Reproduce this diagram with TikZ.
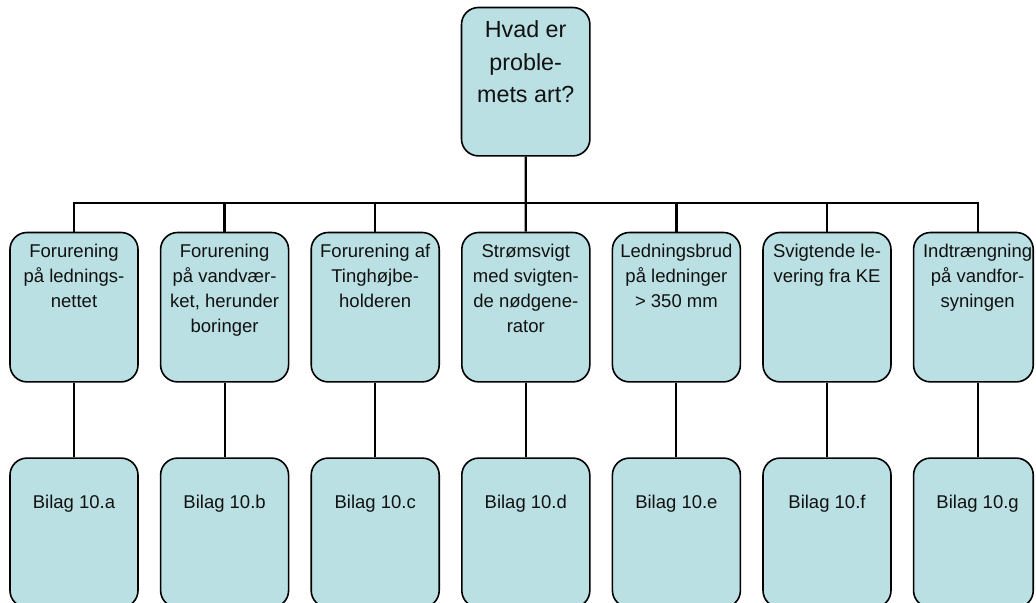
\documentclass[tikz,border=0pt]{standalone}
\usepackage{fontspec}
\setmainfont{Liberation Sans}
\newcommand\boxfont{\fontsize{18.5bp}{25bp}\selectfont}
\newcommand\headfont{\fontsize{23.3bp}{32.5bp}\selectfont}
\definecolor{boxfill}{RGB}{187,224,227}
\definecolor{ink}{RGB}{17,17,17}
\tikzset{
  card/.style={draw=black, line width=1.6bp, fill=boxfill, rounded corners=17bp,
    inner sep=0pt, minimum width=128bp, minimum height=149.4bp},
  txt/.style={anchor=north, inner sep=0pt, align=center, text=ink, font=\boxfont},
  headtxt/.style={anchor=north, inner sep=0pt, align=center, text=ink, font=\headfont},
  link/.style={draw=black, line width=2.3bp},
  thinlink/.style={draw=black, line width=1.8bp},
  droplink/.style={draw=black, line width=2bp},
}
\begin{document}
\begin{tikzpicture}[x=1bp, y=-1bp]
\useasboundingbox (0,0) rectangle (1036,603);
\clip (0,0) rectangle (1036,603);

% question box
\node[card, minimum width=128.4bp, minimum height=148.4bp] (top) at (525.7,81.7) {};
\node[headtxt] (ttop) at ([yshift=-8bp]top.north) {\strut Hvad er\\proble-\\mets art?};

% horizontal bus level and column 7 axis
\coordinate (bus) at (0,203.3);
\coordinate (c7) at (977.6,0);

% problem boxes
\node[card] (m1) at (74,307.2) {};
\node[card] (m2) at (224.6,307.2) {};
\node[card] (m3) at (375.2,307.2) {};
\node[card] (m4) at (525.8,307.2) {};
\node[card] (m5) at (676.4,307.2) {};
\node[card] (m6) at (827,307.2) {};
\node[card, minimum width=119.7bp] (m7) at (973.4,307.2) {};

\node[txt] (t1) at ([yshift=-8.3bp]m1.north) {\strut Forurening\\på lednings-\\nettet};
\node[txt] (t2) at ([yshift=-8.3bp]m2.north) {\strut Forurening\\på vandvær-\\ket, herunder\\boringer};
\node[txt] (t3) at ([yshift=-8.3bp]m3.north) {\strut Forurening af\\Tinghøjbe-\\holderen};
\node[txt] (t4) at ([yshift=-8.3bp]m4.north) {\strut Strømsvigt\\med svigten-\\de nødgene-\\rator};
\node[txt] (t5) at ([yshift=-8.3bp]m5.north) {\strut Ledningsbrud\\på ledninger\\> 350 mm};
\node[txt] (t6) at ([yshift=-8.3bp]m6.north) {\strut Svigtende le-\\vering fra KE};
\node[txt] (t7) at ([yshift=-8.3bp]m7.north -| c7) {\strut Indtrængning\\på vandfor-\\syningen};

% appendix boxes
\node[card] (b1) at (74,532.8) {};
\node[card] (b2) at (224.6,532.8) {};
\node[card] (b3) at (375.2,532.8) {};
\node[card] (b4) at (525.8,532.8) {};
\node[card] (b5) at (676.4,532.8) {};
\node[card] (b6) at (827,532.8) {};
\node[card, minimum width=119.7bp] (b7) at (973.4,532.8) {};

\node[txt] (u1) at ([yshift=-33.7bp]b1.north) {\strut Bilag 10.a};
\node[txt] (u2) at ([yshift=-33.7bp]b2.north) {\strut Bilag 10.b};
\node[txt] (u3) at ([yshift=-33.7bp]b3.north) {\strut Bilag 10.c};
\node[txt] (u4) at ([yshift=-33.7bp]b4.north) {\strut Bilag 10.d};
\node[txt] (u5) at ([yshift=-33.7bp]b5.north) {\strut Bilag 10.e};
\node[txt] (u6) at ([yshift=-33.7bp]b6.north) {\strut Bilag 10.f};
\node[txt] (u7) at ([yshift=-33.7bp]b7.north -| c7) {\strut Bilag 10.g};

% tree connectors from the question to each problem
\draw[thinlink] (top.south) -- (top.south |- bus) -| (m1.north);
\draw[link] (top.south) -- (top.south |- bus) -| (m2.north);
\draw[link] (top.south) -- (top.south |- bus) -| (m3.north);
\draw[link] (top.south) -- (m4.north);
\draw[link] (top.south) -- (top.south |- bus) -| (m5.north);
\draw[link] (top.south) -- (top.south |- bus) -| (m6.north);
\draw[thinlink] (top.south |- bus) -| (m7.north -| c7);

% problem to appendix
\draw[droplink] (m1.south) -- (b1.north);
\draw[droplink] (m2.south) -- (b2.north);
\draw[droplink] (m3.south) -- (b3.north);
\draw[droplink] (m4.south) -- (b4.north);
\draw[droplink] (m5.south) -- (b5.north);
\draw[droplink] (m6.south) -- (b6.north);
\draw[droplink] (m7.south -| c7) -- (b7.north -| c7);
\end{tikzpicture}
\end{document}
